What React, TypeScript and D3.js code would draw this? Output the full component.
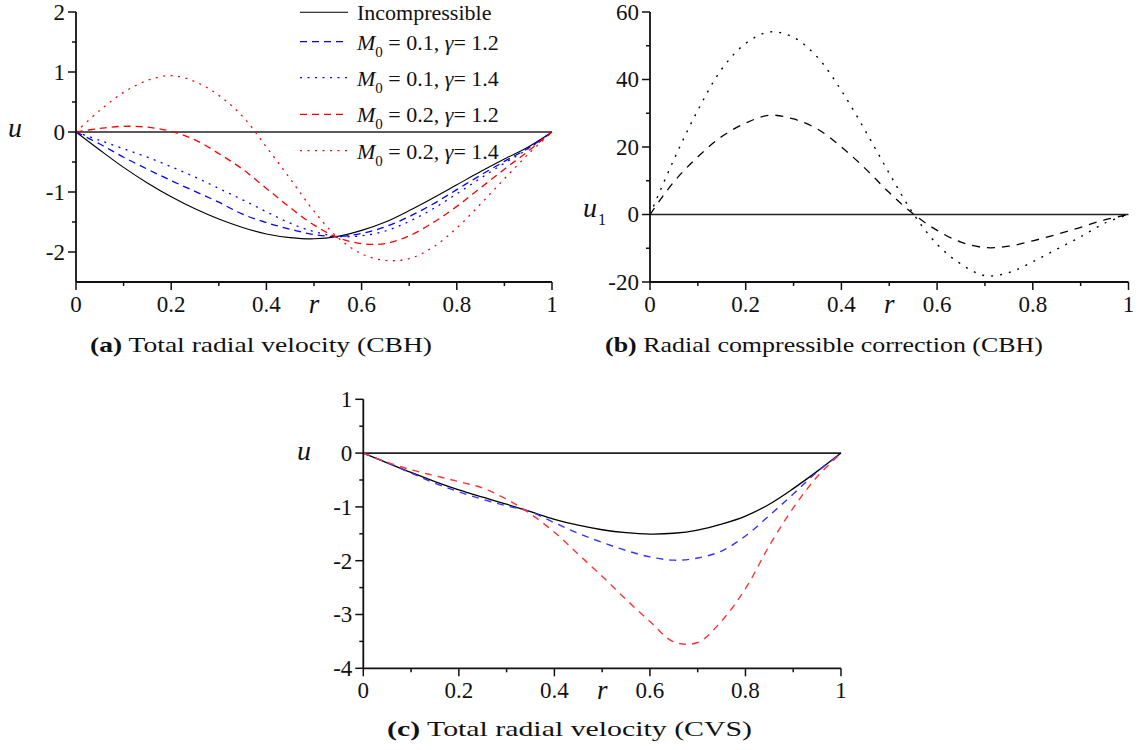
import React from 'react';
import * as d3 from 'd3';

// ---------- data ----------
const rGrid = [0, 0.05, 0.1, 0.15, 0.2, 0.25, 0.3, 0.35, 0.4, 0.45, 0.5, 0.55, 0.6, 0.65, 0.7, 0.75, 0.8, 0.85, 0.9, 0.95, 1];

// (a) Total radial velocity (CBH)
const aIncompressible = [0, -0.30, -0.59, -0.85, -1.08, -1.28, -1.45, -1.59, -1.70, -1.76, -1.78, -1.74, -1.64, -1.50, -1.31, -1.10, -0.88, -0.66, -0.45, -0.25, 0];
const aM01g12 = [0, -0.20, -0.42, -0.62, -0.81, -0.99, -1.17, -1.37, -1.51, -1.62, -1.71, -1.74, -1.69, -1.58, -1.41, -1.20, -0.96, -0.72, -0.49, -0.27, 0];
const aM01g14 = [0, -0.14, -0.28, -0.42, -0.58, -0.75, -0.94, -1.13, -1.33, -1.52, -1.66, -1.74, -1.73, -1.65, -1.49, -1.28, -1.03, -0.77, -0.52, -0.28, 0];
const aM02g12 = [0, 0.06, 0.095, 0.08, 0.01, -0.13, -0.36, -0.62, -0.94, -1.26, -1.55, -1.76, -1.86, -1.86, -1.73, -1.51, -1.24, -0.93, -0.62, -0.32, 0];
const aM02g14 = [0, 0.36, 0.66, 0.86, 0.94, 0.84, 0.61, 0.26, -0.25, -0.78, -1.32, -1.76, -2.03, -2.14, -2.11, -1.92, -1.60, -1.20, -0.78, -0.37, 0];

// (b) Radial compressible correction (CBH)
const bDashed = [0, 9.7, 17.1, 23.1, 27.1, 29.4, 28.3, 25.3, 20.0, 13.6, 6.5, 0.2, -4.7, -8.2, -9.8, -9.4, -7.8, -5.9, -3.8, -1.6, 0];
const bDotted = [0, 16.3, 30.9, 43.1, 50.7, 54.1, 52.5, 46.6, 36.7, 24.8, 12.2, 0.3, -8.8, -14.7, -18.1, -17.2, -14.0, -10.3, -6.6, -2.6, 0];

// (c) Total radial velocity (CVS)
const cIncompressible = [0, -0.18, -0.36, -0.53, -0.685, -0.82, -0.95, -1.09, -1.23, -1.34, -1.425, -1.48, -1.505, -1.49, -1.43, -1.32, -1.17, -0.95, -0.66, -0.34, 0];
const cBlue = [0, -0.18, -0.37, -0.56, -0.72, -0.86, -0.98, -1.09, -1.295, -1.49, -1.66, -1.81, -1.93, -1.99, -1.95, -1.82, -1.54, -1.16, -0.76, -0.35, 0];
const cRed = [0, -0.17, -0.31, -0.42, -0.53, -0.65, -0.857, -1.13, -1.47, -1.88, -2.29, -2.72, -3.13, -3.51, -3.52, -3.12, -2.52, -1.72, -1.02, -0.44, 0];

// ticks
const xTicks = [0, 0.2, 0.4, 0.6, 0.8, 1];
const xTickLabels = ['0', '0.2', '0.4', '0.6', '0.8', '1'];
const xMinor = [0.1, 0.3, 0.5, 0.7, 0.9];
const aYTicks = [-2, -1, 0, 1, 2];
const aYMinor = [-1.5, -0.5, 0.5, 1.5];
const bYTicks = [-20, 0, 20, 40, 60];
const bYMinor = [-10, 10, 30, 50];
const cYTicks = [-4, -3, -2, -1, 0, 1];
const cYMinor = [-3.5, -2.5, -1.5, -0.5, 0.5];

const legendLabels = [
  { m: null, g: null, text: 'Incompressible' },
  { m: '0.1', g: '1.2' },
  { m: '0.1', g: '1.4' },
  { m: '0.2', g: '1.2' },
  { m: '0.2', g: '1.4' },
];

// ---------- styles ----------
const SERIF = "'Liberation Serif', 'Times New Roman', Times, serif";
const DASH = '7,5';
const DOT = '2,5.5';

type Series = { values: number[]; color: string; dash?: string; width?: number };

type PanelProps = {
  left: number; right: number; top: number; bottom: number;
  yDomain: [number, number];
  yTicks: number[]; yMinor: number[];
  series: Series[];
};

function Panel({ left, right, top, bottom, yDomain, yTicks, yMinor, series }: PanelProps) {
  const x = d3.scaleLinear().domain([0, 1]).range([left, right]);
  const y = d3.scaleLinear().domain(yDomain).range([bottom, top]);
  const line = d3.line<number>()
    .x((_, i) => x(rGrid[i]))
    .y((d) => y(d))
    .curve(d3.curveCatmullRom.alpha(0.5));
  return (
    <g>
      {/* zero line */}
      <line x1={x(0)} x2={x(1)} y1={y(0)} y2={y(0)} stroke="#222" strokeWidth={1.6} />
      {series.map((s, i) => (
        <path key={i} d={line(s.values) || ''} fill="none" stroke={s.color}
          strokeWidth={s.width ?? 1.3} strokeDasharray={s.dash} />
      ))}
      {/* axes */}
      <line x1={left} x2={left} y1={top} y2={bottom} stroke="#111" strokeWidth={1.8} />
      <line x1={left} x2={right} y1={bottom} y2={bottom} stroke="#111" strokeWidth={1.8} />
      {yTicks.map((t) => (
        <g key={'yt' + t}>
          <line x1={left - 8} x2={left} y1={y(t)} y2={y(t)} stroke="#111" strokeWidth={1.5} />
          <text x={left - 11} y={y(t)} dy="0.34em" textAnchor="end" fontSize={23} fontFamily={SERIF} fill="#111">{String(t)}</text>
        </g>
      ))}
      {yMinor.map((t) => (
        <line key={'ym' + t} x1={left - 4} x2={left} y1={y(t)} y2={y(t)} stroke="#111" strokeWidth={1.5} />
      ))}
      {xTicks.map((t, i) => (
        <g key={'xt' + t}>
          <line x1={x(t)} x2={x(t)} y1={bottom} y2={bottom + 8} stroke="#111" strokeWidth={1.5} />
          <text x={x(t)} y={bottom + 30} textAnchor="middle" fontSize={23} fontFamily={SERIF} fill="#111">{xTickLabels[i]}</text>
        </g>
      ))}
      {xMinor.map((t) => (
        <line key={'xm' + t} x1={x(t)} x2={x(t)} y1={bottom} y2={bottom + 4} stroke="#111" strokeWidth={1.5} />
      ))}
      <text x={x(0.5)} y={bottom + 31} textAnchor="middle" fontSize={27} fontStyle="italic" fontFamily={SERIF} fill="#111">r</text>
    </g>
  );
}

const legendStyles: Series[] = [
  { values: aIncompressible, color: '#000', width: 1.1 },
  { values: aM01g12, color: '#0000ff', dash: DASH },
  { values: aM01g14, color: '#0000ff', dash: DOT },
  { values: aM02g12, color: '#ff0000', dash: DASH },
  { values: aM02g14, color: '#ff0000', dash: DOT },
];
const legendRowY = [12.3, 41.7, 77.7, 114.3, 150.7];

export default function App() {
  return (
    <svg width={1142} height={750} style={{ position: 'absolute', left: 0, top: 0, background: '#fff' }}>
      <rect width={1142} height={750} fill="#fff" />
      {/* (a) */}
      <Panel left={76} right={552} top={12} bottom={282} yDomain={[-2.5, 2]} yTicks={aYTicks} yMinor={aYMinor}
        series={legendStyles} />
      <text x={8} y={137} fontSize={28} fontStyle="italic" fontFamily={SERIF} fill="#111">u</text>
      {legendLabels.map((l, i) => {
        const ly = legendRowY[i];
        const st = legendStyles[i];
        return (
          <g key={'lg' + i}>
            <line x1={300} x2={348} y1={ly} y2={ly} stroke={st.color} strokeWidth={st.width ?? 1.3} strokeDasharray={st.dash} />
            {l.m === null ? (
              <text x={357} y={ly + 8} fontSize={22} fontFamily={SERIF} fill="#111">{l.text}</text>
            ) : (
              <text x={357} y={ly + 8} fontSize={22} fontFamily={SERIF} fill="#111">
                <tspan fontStyle="italic">M</tspan>
                <tspan fontSize={15} dy={7}>0</tspan>
                <tspan dy={-7}>{' = ' + l.m + ', '}</tspan>
                <tspan fontStyle="italic">γ</tspan>
                <tspan>{'= ' + l.g}</tspan>
              </text>
            )}
          </g>
        );
      })}
      <text x={90} y={352} fontSize={22} fontFamily={SERIF} fill="#111" textLength={342} lengthAdjust="spacingAndGlyphs">
        <tspan fontWeight="bold">(a)</tspan> Total radial velocity (CBH)
      </text>

      {/* (b) */}
      <Panel left={650} right={1128.5} top={12} bottom={282} yDomain={[-20, 60]} yTicks={bYTicks} yMinor={bYMinor}
        series={[
          { values: bDashed, color: '#000', dash: '8,7', width: 1.3 },
          { values: bDotted, color: '#000', dash: '2,7', width: 1.4 },
        ]} />
      <text x={583} y={217} fontSize={28} fontStyle="italic" fontFamily={SERIF} fill="#111">u</text>
      <text x={598} y={225} fontSize={16} fontFamily={SERIF} fill="#111">1</text>
      <text x={605} y={352} fontSize={22} fontFamily={SERIF} fill="#111" textLength={438} lengthAdjust="spacingAndGlyphs">
        <tspan fontWeight="bold">(b)</tspan> Radial compressible correction (CBH)
      </text>

      {/* (c) */}
      <Panel left={363.3} right={841} top={399.3} bottom={668.3} yDomain={[-4, 1]} yTicks={cYTicks} yMinor={cYMinor}
        series={[
          { values: cIncompressible, color: '#000', width: 1.3 },
          { values: cBlue, color: '#3333ff', dash: '7,6', width: 1.4 },
          { values: cRed, color: '#ff3333', dash: '7,6', width: 1.4 },
        ]} />
      <text x={297} y={460} fontSize={28} fontStyle="italic" fontFamily={SERIF} fill="#111">u</text>
      <text x={387} y={736} fontSize={22} fontFamily={SERIF} fill="#111" textLength={365} lengthAdjust="spacingAndGlyphs">
        <tspan fontWeight="bold">(c)</tspan> Total radial velocity (CVS)
      </text>
    </svg>
  );
}
